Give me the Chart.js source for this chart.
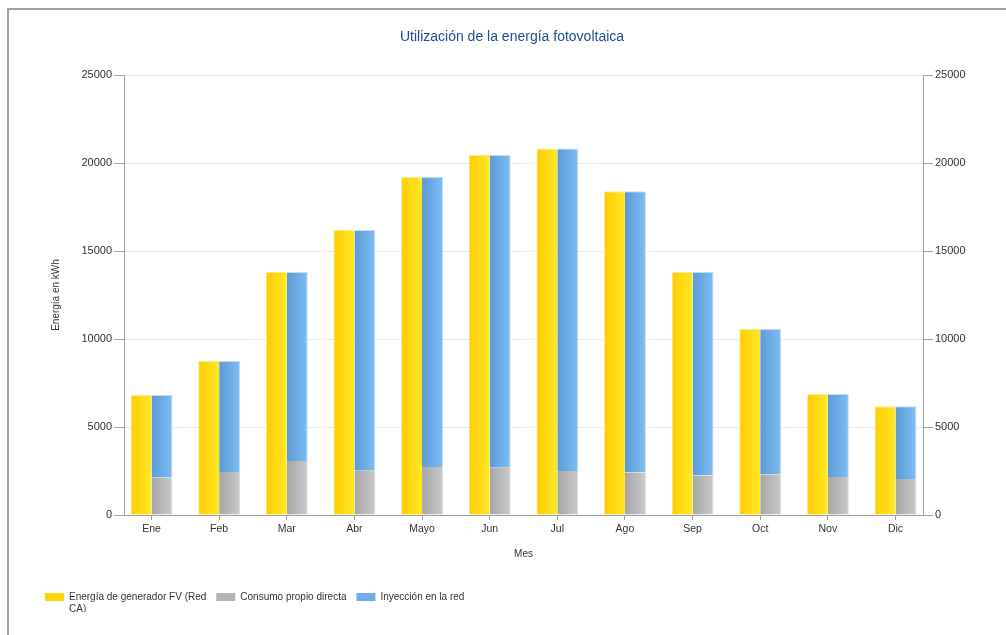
<!DOCTYPE html>
<html>
<head>
<meta charset="utf-8">
<script src="https://cdn.jsdelivr.net/npm/chart.js@4/dist/chart.umd.min.js"></script>
<style>
  html, body { margin: 0; padding: 0; background: #ffffff; overflow: hidden; }
  #frame { position: absolute; left: 7px; top: 8px; width: 1100px; height: 700px;
           border-left: 2px solid #a0a0a0; border-top: 2px solid #a0a0a0; }
  #c { position: absolute; left: 0; top: 0; }
</style>
</head>
<body>
<div id="frame"></div>
<canvas id="c" width="1006" height="635"></canvas>
<script>
// ---- data ----
const months = ['Ene', 'Feb', 'Mar', 'Abr', 'Mayo', 'Jun', 'Jul', 'Ago', 'Sep', 'Oct', 'Nov', 'Dic'];
const generation = [6820, 8750, 13800, 16200, 19200, 20450, 20830, 18400, 13800, 10570, 6870, 6180];
const selfConsumption = [2150, 2440, 3070, 2520, 2730, 2690, 2500, 2420, 2240, 2310, 2160, 2050];
const gridInjection = [4670, 6310, 10730, 13680, 16470, 17760, 18330, 15980, 11560, 8260, 4710, 4130];
const yTicks = [0, 5000, 10000, 15000, 20000, 25000];
const seriesNames = [['Energía de generador FV (Red', 'CA)'], 'Consumo propio directa', 'Inyección en la red'];

// ---- style ----
const FONT = 'Liberation Sans';
const CAT_PCT = 0.62;
const X_PAD = 0.407;
Chart.defaults.font.family = FONT;
Chart.defaults.color = '#333333';

function grad(c0, c1, side) {
  return function (ctx) {
    const chart = ctx.chart;
    const xs = chart.scales && chart.scales.x;
    if (ctx.type !== 'data' || !xs || !chart.chartArea || ctx.dataIndex === undefined) return c0;
    const center = xs.getPixelForValue(ctx.dataIndex);
    const w = (xs.getPixelForValue(1) - xs.getPixelForValue(0)) * CAT_PCT / 2;
    const x0 = side === 'left' ? center - w : center;
    const g = chart.ctx.createLinearGradient(x0, 0, x0 + w, 0);
    g.addColorStop(0, c0);
    g.addColorStop(1, c1);
    return g;
  };
}

const label0 = seriesNames[0].slice();
label0.toString = function () { return this[0]; };
const legendColors = ['#FFD60A', '#B4B4B4', '#6CAEEA'];

const toXY = arr => arr.map((v, i) => ({ x: i, y: v }));

new Chart(document.getElementById('c'), {
  type: 'bar',
  data: {
    datasets: [
      {
        label: 'Energía de generador FV (Red CA)',
        data: toXY(generation),
        stack: 'gen',
        backgroundColor: grad('#FFCB00', '#FFE826', 'left'),
        borderWidth: { left: 1, top: 1 },
        borderColor: '#FFEA8C',
        borderSkipped: 'bottom'
      },
      {
        label: seriesNames[1],
        data: toXY(selfConsumption),
        stack: 'use',
        backgroundColor: grad('#A6A6A6', '#CACACA', 'right'),
        borderWidth: { right: 1 },
        borderColor: '#DCDCDC',
        borderSkipped: 'bottom'
      },
      {
        label: seriesNames[2],
        data: toXY(gridInjection),
        stack: 'use',
        backgroundColor: grad('#5A9AD6', '#80BDF3', 'right'),
        borderWidth: { right: 1, top: 1 },
        borderColor: '#C2DEF7',
        borderSkipped: 'bottom'
      }
    ]
  },
  options: {
    responsive: false,
    animation: false,
    devicePixelRatio: 1,
    categoryPercentage: CAT_PCT,
    barPercentage: 1.0,
    layout: { padding: { left: 35, right: 17, top: 9, bottom: 23 } },
    plugins: {
      tooltip: { enabled: false },
      title: {
        display: true,
        text: 'Utilización de la energía fotovoltaica',
        color: '#1F4E8A',
        font: { family: FONT, size: 14, weight: 'normal' },
        padding: { top: 19.6, bottom: 29.6 }
      },
      legend: {
        position: 'bottom',
        align: 'start',
        labels: {
          boxWidth: 19,
          boxHeight: 8,
          padding: 10,
          color: '#333333',
          font: { family: FONT, size: 10 },
          generateLabels: function (chart) {
            return [label0, seriesNames[1], seriesNames[2]].map((t, i) => ({
              text: t,
              fillStyle: legendColors[i],
              strokeStyle: legendColors[i],
              lineWidth: 0,
              hidden: false,
              fontColor: '#333333',
              datasetIndex: i
            }));
          }
        }
      }
    },
    scales: {
      x: {
        type: 'linear',
        position: 'bottom',
        offset: false,
        min: -X_PAD,
        max: months.length - 1 + X_PAD,
        afterBuildTicks: s => { s.ticks = months.map((m, i) => ({ value: i })); },
        afterFit: s => { s.height = 67; },
        ticks: {
          autoSkip: false,
          maxRotation: 0,
          padding: 3,
          color: '#333333',
          font: { family: FONT, size: 10.5 },
          callback: v => months[v]
        },
        grid: { display: true, offset: false, drawOnChartArea: false, drawTicks: true, tickLength: 5, tickColor: '#A0A0A0' },
        border: { color: '#A0A0A0' },
        title: { display: true, text: 'Mes', color: '#333333', font: { family: FONT, size: 10 }, padding: { top: 4, bottom: 22 } }
      },
      y: {
        position: 'left',
        stacked: true,
        min: 0,
        max: 25000,
        afterBuildTicks: s => { s.ticks = yTicks.map(v => ({ value: v })); },
        afterFit: s => { s.width = 89; },
        ticks: { padding: 2, color: '#333333', font: { family: FONT, size: 11 }, callback: v => String(v) },
        grid: { color: '#EBEBEB', drawTicks: true, tickLength: 10, tickColor: '#A0A0A0' },
        border: { color: '#A0A0A0' },
        title: { display: true, text: 'Energía en kWh', color: '#333333', font: { family: FONT, size: 10 }, padding: { top: 15, bottom: 4 } }
      },
      y2: {
        position: 'right',
        min: 0,
        max: 25000,
        afterBuildTicks: s => { s.ticks = yTicks.map(v => ({ value: v })); },
        afterFit: s => { s.width = 66; },
        ticks: { padding: 2, color: '#333333', font: { family: FONT, size: 11 }, callback: v => String(v) },
        grid: { drawOnChartArea: false, drawTicks: true, tickLength: 10, tickColor: '#A0A0A0' },
        border: { color: '#A0A0A0' }
      }
    }
  }
});
</script>
</body>
</html>
